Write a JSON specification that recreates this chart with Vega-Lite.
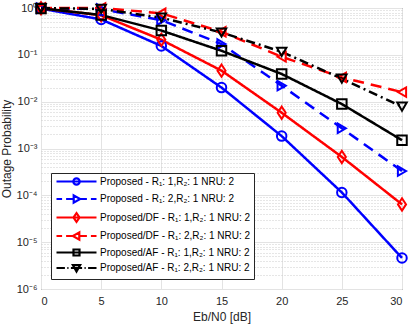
{
  "$schema": "https://vega.github.io/schema/vega-lite/v6.json",
  "width": 361,
  "height": 281,
  "autosize": "none",
  "padding": {"left": 41, "top": 8, "right": 9, "bottom": 42},
  "config": {
    "font": "Liberation Sans",
    "view": {"stroke": "#404040", "strokeWidth": 1},
    "axis": {
      "labelFont": "Liberation Sans",
      "titleFont": "Liberation Sans",
      "labelFontSize": 11,
      "titleFontSize": 12,
      "titleFontWeight": "normal",
      "labelColor": "#262626",
      "titleColor": "#262626",
      "gridColor": "#e3e3e3",
      "gridWidth": 1,
      "domain": false,
      "ticks": false
    }
  },
  "data": {
    "values": [
      {"series": "Proposed - R₁: 1,R₂: 1 NRU: 2", "snr": 0, "p": 0.97},
      {"series": "Proposed - R₁: 1,R₂: 1 NRU: 2", "snr": 5, "p": 0.57},
      {"series": "Proposed - R₁: 1,R₂: 1 NRU: 2", "snr": 10, "p": 0.155},
      {"series": "Proposed - R₁: 1,R₂: 1 NRU: 2", "snr": 15, "p": 0.020},
      {"series": "Proposed - R₁: 1,R₂: 1 NRU: 2", "snr": 20, "p": 0.00184},
      {"series": "Proposed - R₁: 1,R₂: 1 NRU: 2", "snr": 25, "p": 0.000115},
      {"series": "Proposed - R₁: 1,R₂: 1 NRU: 2", "snr": 30, "p": 0.0000046},
      {"series": "Proposed - R₁: 2,R₂: 1 NRU: 2", "snr": 0, "p": 0.99},
      {"series": "Proposed - R₁: 2,R₂: 1 NRU: 2", "snr": 5, "p": 0.95},
      {"series": "Proposed - R₁: 2,R₂: 1 NRU: 2", "snr": 10, "p": 0.55},
      {"series": "Proposed - R₁: 2,R₂: 1 NRU: 2", "snr": 15, "p": 0.17},
      {"series": "Proposed - R₁: 2,R₂: 1 NRU: 2", "snr": 20, "p": 0.022},
      {"series": "Proposed - R₁: 2,R₂: 1 NRU: 2", "snr": 25, "p": 0.0027},
      {"series": "Proposed - R₁: 2,R₂: 1 NRU: 2", "snr": 30, "p": 0.00033},
      {"series": "Proposed/DF - R₁: 1,R₂: 1 NRU: 2", "snr": 0, "p": 0.99},
      {"series": "Proposed/DF - R₁: 1,R₂: 1 NRU: 2", "snr": 5, "p": 0.70},
      {"series": "Proposed/DF - R₁: 1,R₂: 1 NRU: 2", "snr": 10, "p": 0.21},
      {"series": "Proposed/DF - R₁: 1,R₂: 1 NRU: 2", "snr": 15, "p": 0.046},
      {"series": "Proposed/DF - R₁: 1,R₂: 1 NRU: 2", "snr": 20, "p": 0.0058},
      {"series": "Proposed/DF - R₁: 1,R₂: 1 NRU: 2", "snr": 25, "p": 0.00066},
      {"series": "Proposed/DF - R₁: 1,R₂: 1 NRU: 2", "snr": 30, "p": 0.000064},
      {"series": "Proposed/DF - R₁: 2,R₂: 1 NRU: 2", "snr": 0, "p": 1.0},
      {"series": "Proposed/DF - R₁: 2,R₂: 1 NRU: 2", "snr": 5, "p": 1.0},
      {"series": "Proposed/DF - R₁: 2,R₂: 1 NRU: 2", "snr": 10, "p": 0.77},
      {"series": "Proposed/DF - R₁: 2,R₂: 1 NRU: 2", "snr": 15, "p": 0.31},
      {"series": "Proposed/DF - R₁: 2,R₂: 1 NRU: 2", "snr": 20, "p": 0.091},
      {"series": "Proposed/DF - R₁: 2,R₂: 1 NRU: 2", "snr": 25, "p": 0.033},
      {"series": "Proposed/DF - R₁: 2,R₂: 1 NRU: 2", "snr": 30, "p": 0.016},
      {"series": "Proposed/AF - R₁: 1,R₂: 1 NRU: 2", "snr": 0, "p": 0.98},
      {"series": "Proposed/AF - R₁: 1,R₂: 1 NRU: 2", "snr": 5, "p": 0.71},
      {"series": "Proposed/AF - R₁: 1,R₂: 1 NRU: 2", "snr": 10, "p": 0.33},
      {"series": "Proposed/AF - R₁: 1,R₂: 1 NRU: 2", "snr": 15, "p": 0.122},
      {"series": "Proposed/AF - R₁: 1,R₂: 1 NRU: 2", "snr": 20, "p": 0.039},
      {"series": "Proposed/AF - R₁: 1,R₂: 1 NRU: 2", "snr": 25, "p": 0.0089},
      {"series": "Proposed/AF - R₁: 1,R₂: 1 NRU: 2", "snr": 30, "p": 0.0015},
      {"series": "Proposed/AF - R₁: 2,R₂: 1 NRU: 2", "snr": 0, "p": 0.99},
      {"series": "Proposed/AF - R₁: 2,R₂: 1 NRU: 2", "snr": 5, "p": 0.96},
      {"series": "Proposed/AF - R₁: 2,R₂: 1 NRU: 2", "snr": 10, "p": 0.62},
      {"series": "Proposed/AF - R₁: 2,R₂: 1 NRU: 2", "snr": 15, "p": 0.30},
      {"series": "Proposed/AF - R₁: 2,R₂: 1 NRU: 2", "snr": 20, "p": 0.116},
      {"series": "Proposed/AF - R₁: 2,R₂: 1 NRU: 2", "snr": 25, "p": 0.031},
      {"series": "Proposed/AF - R₁: 2,R₂: 1 NRU: 2", "snr": 30, "p": 0.0078}
    ]
  },
  "encoding": {
    "x": {
      "field": "snr",
      "type": "quantitative",
      "scale": {"domain": [0, 30], "nice": false},
      "axis": {
        "values": [0, 5, 10, 15, 20, 25, 30],
        "title": "Eb/N0 [dB]",
        "labelPadding": 6,
        "titlePadding": 5
      }
    },
    "color": {
      "field": "series",
      "type": "nominal",
      "sort": null,
      "scale": {
        "domain": [
          "Proposed - R₁: 1,R₂: 1 NRU: 2",
          "Proposed - R₁: 2,R₂: 1 NRU: 2",
          "Proposed/DF - R₁: 1,R₂: 1 NRU: 2",
          "Proposed/DF - R₁: 2,R₂: 1 NRU: 2",
          "Proposed/AF - R₁: 1,R₂: 1 NRU: 2",
          "Proposed/AF - R₁: 2,R₂: 1 NRU: 2"
        ],
        "range": ["#0000ff", "#0000ff", "#ff0000", "#ff0000", "#000000", "#000000"]
      },
      "legend": {
        "title": null,
        "orient": "bottom-left",
        "offset": 10,
        "padding": 3,
        "fillColor": "white",
        "strokeColor": "#262626",
        "labelFont": "Liberation Sans",
        "labelFontSize": 10,
        "labelColor": "#000000",
        "labelLimit": 300,
        "rowPadding": 0.5,
        "symbolSize": 64,
        "symbolOffset": 17,
        "symbolStrokeWidth": 2.2,
        "labelOffset": 18,
        "encode": {
          "symbols": {
            "update": {
              "shape": {
                "signal": "['M-5,0L5,0M0.8,0A0.8,0.8 0 1,1 -0.8,0A0.8,0.8 0 1,1 0.8,0Z', 'M-5,0L-3.6,0M-2.6,0L-0.8,0M0.9,0L2.6,0M3.6,0L5,0M-0.7,-0.9L0.9,0L-0.7,0.9Z', 'M-5,0L5,0M0,-1.1L0.75,0L0,1.1L-0.75,0Z', 'M-5,0L-3.6,0M-2.6,0L-0.9,0M0.8,0L2.6,0M3.6,0L5,0M0.7,-0.9L-0.9,0L0.7,0.9Z', 'M-5,0L5,0M-0.75,-0.75L0.75,-0.75L0.75,0.75L-0.75,0.75Z', 'M-5,0L-2.9,0M-2.3,0L-2,0M-1.4,0L1.4,0M2,0L2.3,0M2.9,0L5,0M-0.9,-0.7L0.9,-0.7L0,0.9Z'][indexof(domain('color'), datum.value)]"
              },
              "fill": {"value": "transparent"},
              "strokeWidth": {"value": 2.2}
            }
          }
        }
      }
    }
  },
  "layer": [
    {
      "mark": {"type": "line", "strokeWidth": 2.5},
      "encoding": {
        "y": {
          "field": "p",
          "type": "quantitative",
          "scale": {"type": "log", "domain": [0.000001, 1], "nice": false},
          "axis": {
            "values": [0.000001, 0.00001, 0.0001, 0.001, 0.01, 0.1, 1],
            "labelExpr": "'10' + (datum.value >= 0.99 ? '⁰' : '⁻' + ['⁰','¹','²','³','⁴','⁵','⁶'][round(-log(datum.value)/LN10)])",
            "title": "Outage Probability",
            "labelPadding": 4,
            "titleX": -28
          }
        },
        "strokeDash": {
          "field": "series",
          "type": "nominal",
          "scale": {
            "domain": [
              "Proposed/AF - R₁: 2,R₂: 1 NRU: 2",
              "Proposed/AF - R₁: 1,R₂: 1 NRU: 2",
              "Proposed/DF - R₁: 2,R₂: 1 NRU: 2",
              "Proposed/DF - R₁: 1,R₂: 1 NRU: 2",
              "Proposed - R₁: 2,R₂: 1 NRU: 2",
              "Proposed - R₁: 1,R₂: 1 NRU: 2"
            ],
            "range": [[9, 4, 2, 4], [1, 0], [11, 7], [1, 0], [11, 7], [1, 0]]
          },
          "legend": null
        }
      }
    },
    {
      "mark": {"type": "point", "filled": false, "strokeWidth": 2, "size": 90, "opacity": 1},
      "encoding": {
        "y": {
          "field": "p",
          "type": "quantitative",
          "axis": {
            "orient": "right",
            "labels": false,
            "title": null,
            "grid": true,
            "gridDash": [1, 2],
            "gridColor": "#cccccc",
            "values": [0.000002, 0.000003, 0.000004, 0.000005, 0.000006, 0.000007, 0.000008, 0.000009,
                       0.00002, 0.00003, 0.00004, 0.00005, 0.00006, 0.00007, 0.00008, 0.00009,
                       0.0002, 0.0003, 0.0004, 0.0005, 0.0006, 0.0007, 0.0008, 0.0009,
                       0.002, 0.003, 0.004, 0.005, 0.006, 0.007, 0.008, 0.009,
                       0.02, 0.03, 0.04, 0.05, 0.06, 0.07, 0.08, 0.09,
                       0.2, 0.3, 0.4, 0.5, 0.6, 0.7, 0.8, 0.9]
          }
        },
        "shape": {
          "field": "series",
          "type": "nominal",
          "scale": {
            "domain": [
              "Proposed/AF - R₁: 2,R₂: 1 NRU: 2",
              "Proposed/AF - R₁: 1,R₂: 1 NRU: 2",
              "Proposed/DF - R₁: 2,R₂: 1 NRU: 2",
              "Proposed/DF - R₁: 1,R₂: 1 NRU: 2",
              "Proposed - R₁: 2,R₂: 1 NRU: 2",
              "Proposed - R₁: 1,R₂: 1 NRU: 2"
            ],
            "range": ["triangle-down", "square", "triangle-left", "M0,-1.3L0.85,0L0,1.3L-0.85,0Z", "triangle-right", "circle"]
          },
          "legend": null
        }
      }
    }
  ],
  "resolve": {"axis": {"y": "independent"}}
}
